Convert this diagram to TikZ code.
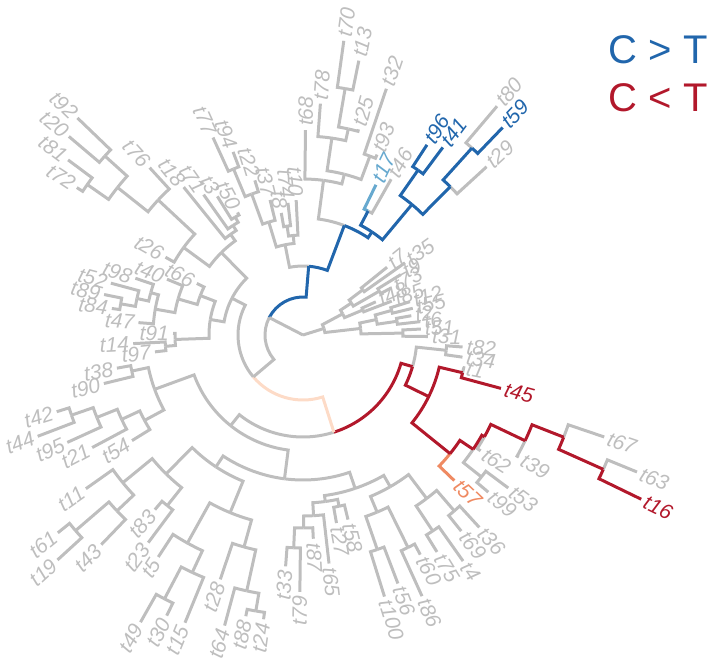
\documentclass[tikz,border=0pt]{standalone}
\usepackage{fontspec}
\setmainfont{Liberation Sans}
\definecolor{tipgrey}{HTML}{BEBEBE}
\definecolor{ctblue}{HTML}{2166AC}
\definecolor{ctred}{HTML}{B2182B}
\definecolor{ctorange}{HTML}{EF8A62}
\definecolor{ctpeach}{HTML}{FDDBC7}
\definecolor{ctlight}{HTML}{67A9CF}
\tikzset{
  branch/.style={draw=tipgrey,line width=3pt},
  tiplab/.style={inner sep=0pt,font=\fontsize{21}{21}\selectfont\itshape},
  legend/.style={inner sep=0pt,font=\fontsize{40}{40}\selectfont}
}
% tip: name, position, radius, colour
\newcommand\tipnode[4]{%
  \pgfmathsetmacro\tipang{-0.7+3.6*#2}%
  \expandafter\xdef\csname ang@#1\endcsname{\tipang}%
  \coordinate (#1) at (\tipang:#3pt);
  \pgfmathparse{and(\tipang>90,\tipang<270)}%
  \ifnum\pgfmathresult=1
    \node[tiplab,text=#4,anchor=east,rotate=\tipang-180] (lab#1) at (\tipang:#3pt+4pt) {#1};
  \else
    \node[tiplab,text=#4,anchor=west,rotate=\tipang] (lab#1) at (\tipang:#3pt+4pt) {#1};
  \fi}
% clade: name, radius, child 1, colour 1, child 2, colour 2
\newcommand\clade[6]{%
  \pgfmathsetmacro\angA{\csname ang@#3\endcsname}%
  \pgfmathsetmacro\angB{\csname ang@#5\endcsname}%
  \pgfmathsetmacro\angM{(\angA+\angB)/2}%
  \expandafter\xdef\csname ang@#1\endcsname{\angM}%
  \coordinate (#1) at (\angM:#2pt);
  \draw[branch,#4] (#1) arc[start angle=\angM,end angle=\angA,radius=#2pt] -- (#3);
  \draw[branch,#6] (#1) arc[start angle=\angM,end angle=\angB,radius=#2pt] -- (#5);}

\begin{document}
\begin{tikzpicture}
\useasboundingbox (-303pt,-330pt) rectangle (410pt,335pt);
\coordinate (root) at (0,0);

% tips, anticlockwise from t31
\tipnode{t31}{0}{125}{tipgrey}
\tipnode{t51}{1}{118}{tipgrey}
\tipnode{t6}{2}{118}{tipgrey}
\tipnode{t2}{3}{110}{tipgrey}
\tipnode{t55}{4}{113}{tipgrey}
\tipnode{t12}{5}{112}{tipgrey}
\tipnode{t85}{6}{95}{tipgrey}
\tipnode{t48}{7}{80}{tipgrey}
\tipnode{t73}{8}{100}{tipgrey}
\tipnode{t9}{9}{115}{tipgrey}
\tipnode{t35}{10}{125}{tipgrey}
\tipnode{t7}{11}{108}{tipgrey}
\tipnode{t29}{12}{249}{tipgrey}
\tipnode{t59}{13}{288}{ctblue}
\tipnode{t80}{14}{300}{tipgrey}
\tipnode{t41}{15}{234}{ctblue}
\tipnode{t96}{16}{227}{ctblue}
\tipnode{t46}{17}{179}{tipgrey}
\tipnode{t17}{18}{167}{ctlight}
\tipnode{t93}{19}{195}{tipgrey}
\tipnode{t32}{20}{260}{tipgrey}
\tipnode{t25}{21}{213}{tipgrey}
\tipnode{t13}{22}{280}{tipgrey}
\tipnode{t70}{23}{297}{tipgrey}
\tipnode{t78}{24}{232}{tipgrey}
\tipnode{t68}{25}{205}{tipgrey}
\tipnode{t10}{26}{135}{tipgrey}
\tipnode{t74}{27}{133}{tipgrey}
\tipnode{t8}{28}{124}{tipgrey}
\tipnode{t37}{29}{139}{tipgrey}
\tipnode{t22}{30}{162}{tipgrey}
\tipnode{t94}{31}{196}{tipgrey}
\tipnode{t77}{32}{217}{tipgrey}
\tipnode{t50}{33}{139}{tipgrey}
\tipnode{t3}{34}{163}{tipgrey}
\tipnode{t71}{35}{172}{tipgrey}
\tipnode{t18}{36}{190}{tipgrey}
\tipnode{t76}{37}{227}{tipgrey}
\tipnode{t92}{38}{313}{tipgrey}
\tipnode{t20}{39}{307}{tipgrey}
\tipnode{t81}{40}{293}{tipgrey}
\tipnode{t72}{41}{270}{tipgrey}
\tipnode{t26}{42}{158}{tipgrey}
\tipnode{t66}{43}{118}{tipgrey}
\tipnode{t40}{44}{147}{tipgrey}
\tipnode{t98}{45}{177}{tipgrey}
\tipnode{t52}{46}{199}{tipgrey}
\tipnode{t89}{47}{203}{tipgrey}
\tipnode{t84}{48}{193}{tipgrey}
\tipnode{t47}{49}{165}{tipgrey}
\tipnode{t91}{50}{130}{tipgrey}
\tipnode{t14}{51}{170}{tipgrey}
\tipnode{t97}{52}{149}{tipgrey}
\tipnode{t38}{53}{189}{tipgrey}
\tipnode{t90}{54}{205}{tipgrey}
\tipnode{t42}{55}{258}{tipgrey}
\tipnode{t44}{56}{284}{tipgrey}
\tipnode{t95}{57}{259}{tipgrey}
\tipnode{t21}{58}{239}{tipgrey}
\tipnode{t54}{59}{201}{tipgrey}
\tipnode{t11}{60}{266}{tipgrey}
\tipnode{t61}{61}{315}{tipgrey}
\tipnode{t19}{62}{333}{tipgrey}
\tipnode{t43}{63}{291}{tipgrey}
\tipnode{t83}{64}{229}{tipgrey}
\tipnode{t23}{65}{259}{tipgrey}
\tipnode{t5}{66}{265}{tipgrey}
\tipnode{t49}{67}{330}{tipgrey}
\tipnode{t30}{68}{312}{tipgrey}
\tipnode{t15}{69}{311}{tipgrey}
\tipnode{t28}{70}{258}{tipgrey}
\tipnode{t64}{71}{301}{tipgrey}
\tipnode{t88}{72}{287}{tipgrey}
\tipnode{t24}{73}{287}{tipgrey}
\tipnode{t33}{74}{232}{tipgrey}
\tipnode{t79}{75}{257}{tipgrey}
\tipnode{t87}{76}{204}{tipgrey}
\tipnode{t65}{77}{230}{tipgrey}
\tipnode{t27}{78}{191}{tipgrey}
\tipnode{t58}{79}{190}{tipgrey}
\tipnode{t100}{80}{274}{tipgrey}
\tipnode{t56}{81}{266}{tipgrey}
\tipnode{t86}{82}{287}{tipgrey}
\tipnode{t60}{83}{249}{tipgrey}
\tipnode{t75}{84}{255}{tipgrey}
\tipnode{t4}{85}{277}{tipgrey}
\tipnode{t69}{86}{252}{tipgrey}
\tipnode{t36}{87}{261}{tipgrey}
\tipnode{t57}{88}{210}{ctorange}
\tipnode{t99}{89}{243}{tipgrey}
\tipnode{t53}{90}{256}{tipgrey}
\tipnode{t62}{91}{212}{tipgrey}
\tipnode{t39}{92}{248}{tipgrey}
\tipnode{t16}{93}{376}{ctred}
\tipnode{t63}{94}{361}{tipgrey}
\tipnode{t67}{95}{318}{tipgrey}
\tipnode{t45}{96}{205}{ctred}
\tipnode{t1}{97}{163}{tipgrey}
\tipnode{t34}{98}{161}{tipgrey}
\tipnode{t82}{99}{160}{tipgrey}

% right fan
\clade{Ra}{75}{t35}{}{t7}{}
\clade{Rb}{88}{t73}{}{t9}{}
\clade{Rc}{58}{Rb}{}{Ra}{}
\clade{Rd}{65}{t85}{}{t48}{}
\clade{Re}{45}{Rd}{}{Rc}{}
\clade{Rf}{92}{t55}{}{t12}{}
\clade{Rg}{95}{t6}{}{t2}{}
\clade{Rh}{75}{Rg}{}{Rf}{}
\clade{Ri}{100}{t31}{}{t51}{}
\clade{Rj}{58}{Ri}{}{Rh}{}
\clade{R}{22}{Rj}{}{Re}{}

% top
\clade{C1}{140}{t46}{}{t17}{ctlight}
\clade{Bp1}{201}{t41}{ctblue}{t96}{ctblue}
\clade{Bp2}{252}{t59}{ctblue}{t80}{}
\clade{Bp3}{209}{t29}{}{Bp2}{ctblue}
\clade{C2}{170}{Bp3}{ctblue}{Bp1}{ctblue}
\clade{B2}{124}{C2}{ctblue}{C1}{ctblue}
\clade{G5}{250}{t13}{}{t70}{}
\clade{G4}{211}{t25}{}{G5}{}
\clade{G3}{199}{G4}{}{t78}{}
\clade{G6}{191}{t93}{}{t32}{}
\clade{G2}{166}{G6}{}{G3}{}
\clade{G}{156}{G2}{}{t68}{}
\clade{B}{117}{B2}{ctblue}{G}{}
\clade{P1}{110}{t74}{}{t8}{}
\clade{P2}{100}{t10}{}{P1}{}
\clade{P3}{180}{t94}{}{t77}{}
\clade{P4}{150}{t22}{}{P3}{}
\clade{P5}{118}{t37}{}{P4}{}
\clade{P}{92}{P2}{}{P5}{}
\clade{A1}{69}{B}{ctblue}{P}{}

% upper left
\clade{W3}{136}{t50}{}{t3}{}
\clade{W2}{130}{W3}{}{t71}{}
\clade{W1}{124}{W2}{}{t18}{}
\clade{N1}{267}{t92}{}{t20}{}
\clade{N2}{263}{t81}{}{t72}{}
\clade{N3}{237}{N1}{}{N2}{}
\clade{N4}{198}{t76}{}{N3}{}
\clade{N5}{148}{N4}{}{t26}{}
\clade{W}{116}{W1}{}{N5}{}
\clade{V1a}{185}{t89}{}{t84}{}
\clade{V1b}{170}{t52}{}{V1a}{}
\clade{V1c}{158}{t98}{}{V1b}{}
\clade{V1d}{150}{V1c}{}{t47}{}
\clade{V1e}{130}{t40}{}{V1d}{}
\clade{V1}{110}{t66}{}{V1e}{}
\clade{V2a}{138}{t14}{}{t97}{}
\clade{V2}{128}{t91}{}{V2a}{}
\clade{V}{94}{V1}{}{V2}{}
\clade{A2a}{80}{W}{}{V}{}

% lower left and bottom
\clade{Gb1a}{175}{t38}{}{t90}{}
\clade{Gb1b4}{245}{t42}{}{t44}{}
\clade{Gb1b3}{222}{Gb1b4}{}{t95}{}
\clade{Gb1b2}{200}{Gb1b3}{}{t21}{}
\clade{Gb1b}{180}{Gb1b2}{}{t54}{}
\clade{Gb1}{158}{Gb1a}{}{Gb1b}{}
\clade{T1c}{300}{t61}{}{t19}{}
\clade{T1d}{256}{T1c}{}{t43}{}
\clade{T1a}{233}{t11}{}{T1d}{}
\clade{T1b}{218}{t83}{}{t23}{}
\clade{T1}{195}{T1a}{}{T1b}{}
\clade{T2c}{298}{t49}{}{t30}{}
\clade{T2d}{262}{T2c}{}{t15}{}
\clade{T2a}{238}{t5}{}{T2d}{}
\clade{T2e}{280}{t88}{}{t24}{}
\clade{T2f}{262}{t64}{}{T2e}{}
\clade{T2b}{220}{t28}{}{T2f}{}
\clade{T2}{192}{T2a}{}{T2b}{}
\clade{X}{158}{T1}{}{T2}{}
\clade{M1}{213}{t33}{}{t79}{}
\clade{M2}{193}{M1}{}{t87}{}
\clade{M}{181}{M2}{}{t65}{}
\clade{Y1}{175}{t27}{}{t58}{}
\clade{Yp}{168}{M}{}{Y1}{}
\clade{Y2p}{227}{t100}{}{t56}{}
\clade{Y2q}{237}{t86}{}{t60}{}
\clade{Y2a}{192}{Y2p}{}{Y2q}{}
\clade{Y2r}{235}{t75}{}{t4}{}
\clade{Y2s}{232}{t69}{}{t36}{}
\clade{Y2b}{205}{Y2r}{}{Y2s}{}
\clade{Y2}{175}{Y2a}{}{Y2b}{}
\clade{Y}{162}{Yp}{}{Y2}{}
\clade{Gb2}{145}{X}{}{Y}{}
\clade{Gb}{116}{Gb1}{}{Gb2}{}

% lower right
\clade{Qg}{144}{t34}{}{t82}{}
\clade{Q3}{164}{t45}{ctred}{t1}{}
\clade{Q9}{329}{t16}{ctred}{t63}{}
\clade{Q8}{280}{Q9}{ctred}{t67}{}
\clade{Q7}{246}{t39}{}{Q8}{ctred}
\clade{Q6}{208}{t62}{}{Q7}{ctred}
\clade{Q5p}{228}{t99}{}{t53}{}
\clade{Q5}{205}{Q5p}{}{Q6}{ctred}
\clade{Q4}{189}{t57}{ctorange}{Q5}{ctred}
\clade{Q1}{140}{Q4}{ctred}{Q3}{ctred}
\clade{Q0}{114}{Q1}{ctred}{Qg}{}
\clade{A2b}{102}{Gb}{}{Q0}{ctred}
\clade{A2}{65}{A2a}{}{A2b}{ctpeach}
\clade{A}{38}{A2}{}{A1}{ctblue}
\draw[branch] (root) -- (R);
\draw[branch] (root) -- (A);

\node[legend,text=ctblue,anchor=base east] (gt) at (405pt,272pt) {C > T};
\node[legend,text=ctred,anchor=base east] (lt) at (405pt,223pt) {C < T};
\end{tikzpicture}
\end{document}
